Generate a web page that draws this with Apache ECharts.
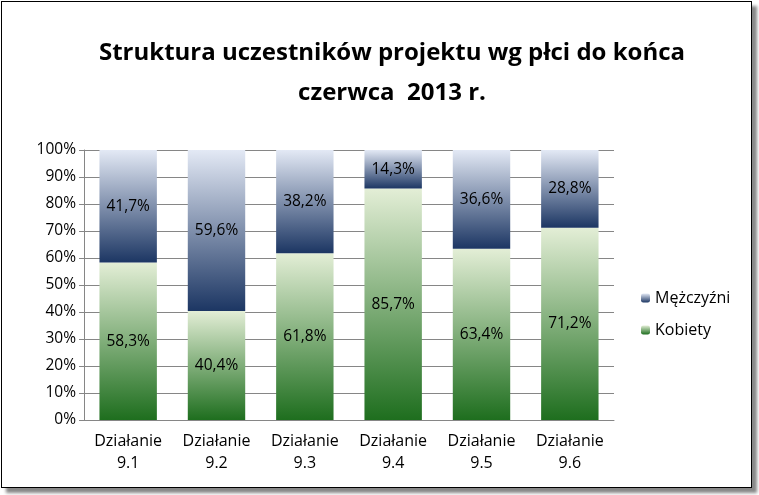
<!DOCTYPE html>
<html><head><meta charset="utf-8">
<script src="https://cdn.jsdelivr.net/npm/echarts@6/dist/echarts.min.js"></script>
<style>
body{margin:0;background:#fff}
#c{position:absolute;left:1px;top:1px;width:749px;height:485px;border:1px solid #000;box-shadow:5px 5px 3px #888;background:#fff}
</style></head><body>
<div id="c"></div>
<script>
const categories = ["Działanie\n9.1","Działanie\n9.2","Działanie\n9.3","Działanie\n9.4","Działanie\n9.5","Działanie\n9.6"];
const kobiety = [58.3, 40.4, 61.8, 85.7, 63.4, 71.2];
const mezczyzni = [41.7, 59.6, 38.2, 14.3, 36.6, 28.8];

const font = "'Open Sans', 'Liberation Sans', sans-serif";
function grad(top, bottom) {
    return new echarts.graphic.LinearGradient(0, 0, 0, 1, [
        {offset: 0, color: top},
        {offset: 1, color: bottom}
    ]);
}
const lbl = {
    show: true,
    position: "inside",
    fontFamily: font,
    fontSize: 15.5,
    color: "#000",
    formatter: p => p.value.toFixed(1).replace(".", ",") + "%"
};
let chart = echarts.init(document.getElementById("c"));
chart.setOption({
    animation: false,
    title: {
        text: "Struktura uczestników projektu wg płci do końca\nczerwca  2013 r.",
        left: 385,
        textAlign: "center",
        top: 26,
        textStyle: {fontFamily: font, fontSize: 24, fontWeight: "bold", color: "#000", lineHeight: 40}
    },
    grid: {left: 82, top: 148, width: 530, height: 270},
    xAxis: {
        type: "category",
        data: categories,
        axisTick: {show: false},
        axisLine: {lineStyle: {color: "#868686"}},
        axisLabel: {fontFamily: font, fontSize: 16, color: "#000", lineHeight: 22, margin: 10}
    },
    yAxis: {
        type: "value",
        min: 0, max: 100, interval: 10,
        axisLine: {show: true, lineStyle: {color: "#868686"}},
        axisTick: {show: true, lineStyle: {color: "#868686"}},
        splitLine: {lineStyle: {color: "#868686"}},
        axisLabel: {fontFamily: font, fontSize: 15.5, color: "#000", formatter: "{value}%"}
    },
    legend: {
        orient: "vertical",
        left: 634,
        top: 283,
        itemGap: 16,
        itemWidth: 9,
        itemHeight: 9,
        textStyle: {fontFamily: font, fontSize: 16, color: "#000"},
        data: ["Mężczyźni", "Kobiety"]
    },
    series: [
        {name: "Kobiety", type: "bar", stack: "a", barWidth: "65%", data: kobiety,
         itemStyle: {color: grad("#e3eed6", "#1e6e1e")}, label: lbl},
        {name: "Mężczyźni", type: "bar", stack: "a", data: mezczyzni,
         itemStyle: {color: grad("#e3e9f5", "#1c3663")}, label: lbl}
    ]
});
</script>
</body></html>
